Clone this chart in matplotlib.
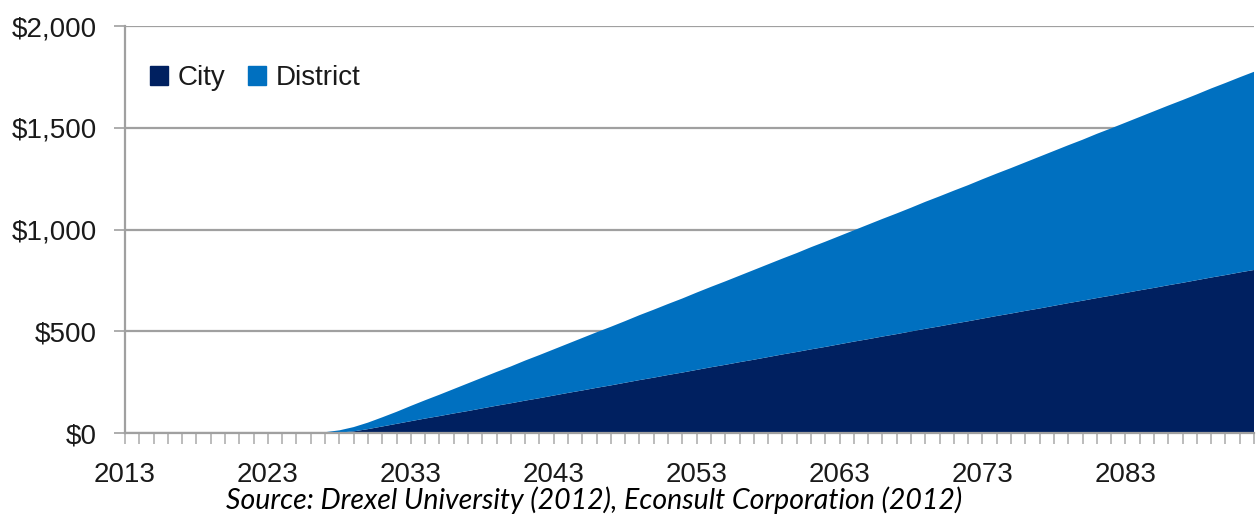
import matplotlib
matplotlib.use("Agg")
import matplotlib.pyplot as plt
from matplotlib.patches import Rectangle
from matplotlib.ticker import FuncFormatter, MultipleLocator

years = list(range(2013, 2093))

city = [0] * 15 + [  # 2013-2027
    2, 8, 19, 32, 45, 58, 71, 83, 96, 108,            # 2028-2037
    121, 134, 146, 159, 171, 184, 197, 209, 222, 234,  # 2038-2047
    247, 260, 272, 285, 297, 310, 323, 335, 348, 360,  # 2048-2057
    373, 386, 398, 411, 423, 436, 449, 461, 474, 486,  # 2058-2067
    499, 512, 524, 537, 549, 562, 575, 587, 600, 612,  # 2068-2077
    625, 638, 650, 663, 675, 688, 701, 713, 726, 738,  # 2078-2087
    751, 764, 776, 789, 801,                           # 2088-2092
]

district = [0] * 13 + [  # 2013-2025
    1, 4, 11, 21, 32, 45, 59, 75, 90, 105,             # 2026-2035
    120, 136, 151, 166, 181, 197, 212, 227, 242, 258,  # 2036-2045
    273, 288, 303, 319, 334, 349, 364, 380, 395, 410,  # 2046-2055
    425, 441, 456, 471, 486, 502, 517, 532, 547, 563,  # 2056-2065
    578, 593, 608, 624, 639, 654, 669, 685, 700, 715,  # 2066-2075
    730, 746, 761, 776, 791, 807, 822, 837, 852, 868,  # 2076-2085
    883, 898, 913, 929, 944, 959, 974,                 # 2086-2092
]

series_names = ["City", "District"]
series_colors = ["#002060", "#0070C0"]
label_years = [2013, 2023, 2033, 2043, 2053, 2063, 2073, 2083]
y_ticks = [0, 500, 1000, 1500, 2000]
source_text = "Source: Drexel University (2012), Econsult Corporation (2012)"

fig = plt.figure(figsize=(12.56, 5.18), dpi=100)
ax = fig.add_axes([125 / 1256, 1 - 433 / 518, (1254 - 125) / 1256, (433 - 26) / 518])

ax.stackplot(years, city, district, colors=series_colors, labels=series_names,
             linewidth=0, zorder=2)

ax.set_xlim(2013, 2092)
ax.set_ylim(0, 2000)

grid_c = "#a0a0a0"
ax.set_yticks(y_ticks)
ax.yaxis.set_major_formatter(FuncFormatter(lambda v, p: "${:,.0f}".format(v)))
ax.grid(axis="y", color=grid_c, linewidth=1.6, zorder=1)
ax.set_axisbelow(True)

ax.set_xticks(label_years)
ax.set_xticklabels([str(y) for y in label_years])
ax.xaxis.set_minor_locator(MultipleLocator(1))

for s in ["top", "right"]:
    ax.spines[s].set_visible(False)
for s in ["left", "bottom"]:
    ax.spines[s].set_color(grid_c)
    ax.spines[s].set_linewidth(1.6)
    ax.spines[s].set_zorder(3)

ax.tick_params(axis="y", length=8, width=1.2, color=grid_c, pad=12,
               labelsize=20, labelcolor="#1a1a1a")
ax.tick_params(axis="x", which="both", length=8, width=1.2, color="#b0b0b0",
               direction="out", pad=13, labelsize=20, labelcolor="#1a1a1a")
for lbl in ax.get_xticklabels() + ax.get_yticklabels():
    lbl.set_family("Liberation Sans")

handles = [Rectangle((0, 0), 1, 1, color=c) for c in series_colors]
leg = ax.legend(handles, series_names, loc="upper left",
                bbox_to_anchor=(150 / 1256, 1 - 65 / 518), bbox_transform=fig.transFigure,
                ncol=2, frameon=False, handlelength=0.65, handleheight=0.65,
                handletextpad=0.35, columnspacing=0.8, borderpad=0, borderaxespad=0,
                prop={"family": "Liberation Sans", "size": 20})
for t in leg.get_texts():
    t.set_color("#1a1a1a")

fig.text(594 / 1256, 1 - 500 / 518, source_text, ha="center", va="center",
         fontsize=20.5, style="italic", family="Lato", color="#000000")

fig.savefig("out.png", dpi=100)
